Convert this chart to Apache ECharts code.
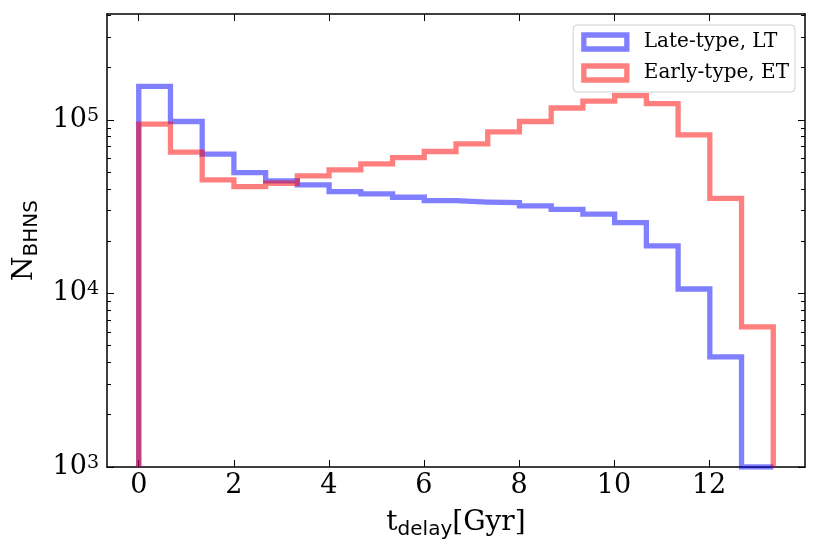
<!DOCTYPE html>
<html>
<head>
<meta charset="utf-8">
<script src="https://cdn.jsdelivr.net/npm/echarts@6/dist/echarts.min.js"></script>
<style>
  html, body { margin: 0; padding: 0; background: #fff; }
  #chart { width: 821px; height: 559px; }
</style>
</head>
<body>
<div id="chart"></div>
<script>
// Histogram bin edges (Gyr), 20 equal bins
const binEdges = [0, 0.6675, 1.335, 2.0025, 2.67, 3.3375, 4.005, 4.6725, 5.34, 6.0075,
  6.675, 7.3425, 8.01, 8.6775, 9.345, 10.0125, 10.68, 11.3475, 12.015, 12.6825, 13.35];

// Counts per bin
const lateType = [156000, 97800, 63400, 49700, 44500, 42200, 38600, 37400, 35800, 34200,
  33600, 33300, 31900, 30500, 28600, 25600, 18800, 10600, 4310, 0];
const earlyType = [94400, 65100, 45100, 41200, 43100, 47500, 51500, 55700, 60500, 65700,
  72700, 85300, 97800, 117000, 128000, 138000, 124000, 81900, 35300, 6420];

const seriesNames = ["Late-type, LT", "Early-type, ET"];
const seriesColors = ["rgba(0,0,255,0.5)", "rgba(255,0,0,0.5)"];

const xTicks = [0, 2, 4, 6, 8, 10, 12];
const yMajor = [1000, 10000, 100000];
const yMinor = [2000, 3000, 4000, 5000, 6000, 7000, 8000, 9000,
  20000, 30000, 40000, 50000, 60000, 70000, 80000, 90000, 200000, 300000, 400000];

const X_MIN = -0.6675, X_MAX = 14.0175;
const Y_MIN = 1000, Y_MAX = 407000;

// step outline like histtype="step": up from the axis floor, across each bin, back down
function stepPoints(counts) {
  const pts = [[binEdges[0], Y_MIN]];
  counts.forEach((c, i) => {
    const v = Math.max(c, Y_MIN);
    pts.push([binEdges[i], v], [binEdges[i + 1], v]);
  });
  pts.push([binEdges[binEdges.length - 1], Y_MIN]);
  return pts;
}

const serif = "DejaVu Serif";
const sans = "DejaVu Sans";
const axisLine = { show: true, onZero: false, lineStyle: { color: "#000", width: 1.5 } };

function yAxisDef(position, ticks, len, withLabels, withLine) {
  return {
    type: "log", logBase: 10, min: Y_MIN, max: Y_MAX, position,
    axisLine: withLine ? axisLine : { show: false, onZero: false },
    axisTick: { show: true, inside: true, length: len, customValues: ticks,
      lineStyle: { color: "#000", width: 1 } },
    axisLabel: withLabels ? {
      show: true, customValues: yMajor, margin: 8,
      formatter: (v) => "{a|10}{b|" + Math.round(Math.log10(v)) + "}",
      rich: {
        a: { fontFamily: serif, fontSize: 27, lineHeight: 27, color: "#000", verticalAlign: "top" },
        b: { fontFamily: serif, fontSize: 19, lineHeight: 19, color: "#000", verticalAlign: "top" }
      }
    } : { show: false },
    splitLine: { show: false },
    minorTick: { show: false }
  };
}

const chart = echarts.init(document.getElementById("chart"));

chart.setOption({
  animation: false,
  backgroundColor: "#fff",
  grid: { left: 107, right: 16, top: 14, bottom: 92, containLabel: false },
  legend: {
    right: 26, top: 25, orient: "vertical",
    padding: [7, 6, 9, 8], itemGap: 11,
    itemWidth: 43, itemHeight: 14,
    backgroundColor: "#fff", borderColor: "#d0d0d0", borderWidth: 1, borderRadius: 4,
    textStyle: { fontFamily: serif, fontSize: 20, lineHeight: 20, color: "#000", padding: [0, 0, 0, 12] },
    data: seriesNames.map((name, i) => ({
      name, icon: "rect",
      itemStyle: { color: "rgba(0,0,0,0)", borderColor: seriesColors[i], borderWidth: 5.3 }
    }))
  },
  xAxis: [
    {
      type: "value", min: X_MIN, max: X_MAX, position: "bottom",
      axisLine,
      axisTick: { show: true, inside: true, length: 7, customValues: xTicks,
        lineStyle: { color: "#000", width: 1 } },
      axisLabel: { show: true, customValues: xTicks, margin: 5,
        fontFamily: serif, fontSize: 27, color: "#000" },
      splitLine: { show: false },
      name: "{t|t}{s|delay}{t|[Gyr]}",
      nameLocation: "middle", nameGap: 42,
      nameTextStyle: {
        rich: {
          t: { fontFamily: serif, fontSize: 28, lineHeight: 28, color: "#000", verticalAlign: "top" },
          s: { fontFamily: sans, fontSize: 20, lineHeight: 20, color: "#000", verticalAlign: "top",
            padding: [11, 0, 0, 0] }
        }
      }
    },
    {
      type: "value", min: X_MIN, max: X_MAX, position: "top",
      axisLine,
      axisTick: { show: true, inside: true, length: 7, customValues: xTicks,
        lineStyle: { color: "#000", width: 1 } },
      axisLabel: { show: false },
      splitLine: { show: false }
    }
  ],
  yAxis: [
    Object.assign(yAxisDef("left", yMajor, 7, true, true), {
      name: "{n|N}{s|BHNS}",
      nameLocation: "middle", nameRotate: 90, nameGap: 61,
      nameTextStyle: {
        rich: {
          n: { fontFamily: serif, fontSize: 28, lineHeight: 28, color: "#000", verticalAlign: "top" },
          s: { fontFamily: sans, fontSize: 20, lineHeight: 20, color: "#000", verticalAlign: "top",
            padding: [11, 0, 0, 0] }
        }
      }
    }),
    yAxisDef("left", yMinor, 4, false, false),
    yAxisDef("right", yMajor, 7, false, true),
    yAxisDef("right", yMinor, 4, false, false)
  ],
  series: [lateType, earlyType].map((counts, i) => ({
    name: seriesNames[i],
    type: "line",
    xAxisIndex: 0, yAxisIndex: 0,
    data: stepPoints(counts),
    symbol: "none",
    clip: true,
    color: seriesColors[i],
    lineStyle: { color: seriesColors[i], width: 5.3, cap: "butt", join: "miter" }
  }))
});
</script>
</body>
</html>
